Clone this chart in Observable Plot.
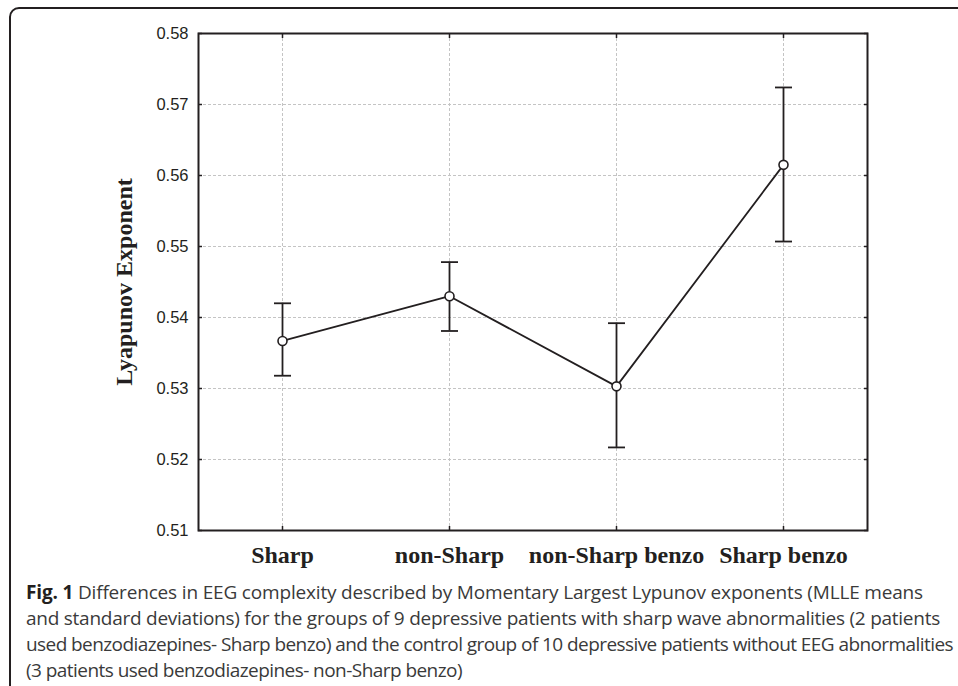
<!DOCTYPE html>
<html><head><meta charset="utf-8">
<script src="https://cdn.jsdelivr.net/npm/d3@7"></script>
<script src="https://cdn.jsdelivr.net/npm/@observablehq/plot@0.6"></script>
<style>
html,body{margin:0;padding:0;background:#fff;width:958px;height:686px;overflow:hidden;}
#wrap{position:relative;width:958px;height:686px;}
#frame{position:absolute;left:9px;top:7px;width:1000px;height:800px;border:2px solid #231f20;border-top-left-radius:10px;box-sizing:border-box;z-index:2;pointer-events:none;}
#chart{position:absolute;left:0;top:0;z-index:1;}
#caption{position:absolute;left:26px;top:579px;font-family:"Open Sans";font-size:19px;line-height:26px;color:#3a3a3a;white-space:nowrap;z-index:3;}
#caption div{display:block;height:26px;}
#caption span{display:inline-block;}
#caption b{color:#231f20;}
</style></head>
<body><div id="wrap"><div id="frame"></div><div id="chart"></div><div id="caption"></div></div>
<script>
const groups = ["Sharp", "non-Sharp", "non-Sharp benzo", "Sharp benzo"];
const means = [0.5367, 0.5430, 0.5303, 0.5615];
const lower = [0.5318, 0.5381, 0.5217, 0.5507];
const upper = [0.5420, 0.5478, 0.5392, 0.5724];
const yTicks = [0.51, 0.52, 0.53, 0.54, 0.55, 0.56, 0.57, 0.58];
const yLabel = "Lyapunov Exponent";
const captionBold = "Fig. 1";
const captionLines = [
  " Differences in EEG complexity described by Momentary Largest Lypunov exponents (MLLE means",
  "and standard deviations) for the groups of 9 depressive patients with sharp wave abnormalities (2 patients",
  "used benzodiazepines- Sharp benzo) and the control group of 10 depressive patients without EEG abnormalities",
  "(3 patients used benzodiazepines- non-Sharp benzo)"
];
// layout: measured widths of the caption lines in the reference (px)
const captionWidths = [897, 914, 927, 436];

const data = groups.map((g, i) => ({group: g, mean: means[i], lo: lower[i], hi: upper[i]}));
const ink = "#231f20";
const capSymbol = {draw(ctx, size) { const w = Math.sqrt(size / Math.PI); ctx.moveTo(-w, 0); ctx.lineTo(w, 0); }};

const chart = Plot.plot({
  width: 958, height: 580,
  marginLeft: 198, marginRight: 91, marginTop: 33, marginBottom: 50,
  style: {background: "transparent", color: ink},
  x: {type: "point", domain: groups, padding: 0.5, label: null},
  y: {domain: [0.51, 0.58], label: null},
  marks: [
    Plot.gridX({stroke: "#c4c4c4", strokeOpacity: 1, strokeDasharray: "3,2"}),
    Plot.gridY(yTicks, {stroke: "#c4c4c4", strokeOpacity: 1, strokeDasharray: "3,2"}),
    Plot.axisY(yTicks, {anchor: "left", tickSize: 0, tickPadding: 10, tickFormat: d => d.toFixed(2), fontFamily: "Liberation Sans", fontSize: 16.5, fill: ink, label: null}),
    Plot.axisY(yTicks, {anchor: "left", tickSize: 4, dx: 4, strokeWidth: 1.5, tickFormat: () => "", label: yLabel, labelAnchor: "center", labelOffset: 84, labelArrow: "none", fontFamily: "Liberation Serif", fontWeight: "bold", fontSize: 24, fill: ink}),
    Plot.axisY(yTicks, {anchor: "right", tickSize: 4, dx: -4, strokeWidth: 1.5, tickFormat: () => "", label: null}),
    Plot.axisX({anchor: "bottom", tickSize: 0, tickPadding: 15, fontFamily: "Liberation Serif", fontWeight: "bold", fontSize: 24, fill: ink, label: null}),
    Plot.axisX({anchor: "bottom", tickSize: 4, dy: -4, strokeWidth: 1.5, tickFormat: () => "", label: null}),
    Plot.axisX({anchor: "top", tickSize: 4, dy: 4, strokeWidth: 1.5, tickFormat: () => "", label: null}),
    Plot.frame({stroke: ink, strokeWidth: 2}),
    Plot.ruleX(data, {x: "group", y1: "lo", y2: "hi", stroke: ink, strokeWidth: 1.8}),
    Plot.dot(data, {x: "group", y: "hi", symbol: capSymbol, r: 8.5, fill: "none", stroke: ink, strokeWidth: 1.8}),
    Plot.dot(data, {x: "group", y: "lo", symbol: capSymbol, r: 8.5, fill: "none", stroke: ink, strokeWidth: 1.8}),
    Plot.line(data, {x: "group", y: "mean", stroke: ink, strokeWidth: 1.8}),
    Plot.dot(data, {x: "group", y: "mean", r: 4.5, fill: "white", stroke: ink, strokeWidth: 1.6})
  ]
});
document.getElementById("chart").appendChild(chart);

const cap = document.getElementById("caption");
captionLines.forEach((line, i) => {
  const div = document.createElement("div");
  const span = document.createElement("span");
  if (i === 0) {
    const b = document.createElement("b");
    b.textContent = captionBold;
    span.appendChild(b);
  }
  span.appendChild(document.createTextNode(line));
  div.appendChild(span);
  cap.appendChild(div);
  const w = span.getBoundingClientRect().width;
  const n = span.textContent.length;
  span.style.letterSpacing = ((captionWidths[i] - w) / n) + "px";
});
</script>
</body></html>
